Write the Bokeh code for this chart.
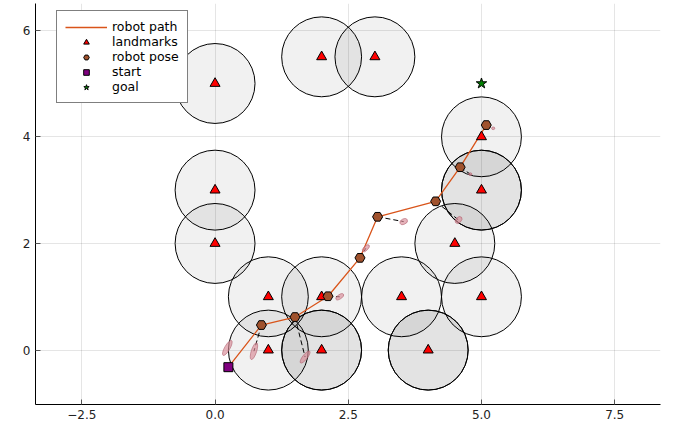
import numpy as np
from bokeh.plotting import figure
from bokeh.models import Range1d, Legend, LegendItem, CustomJSTickFormatter, FixedTicker
from bokeh.embed import file_html
from bokeh.resources import INLINE

# ---- data ----
landmark_x = [0, 2, 3, 0, 0, 5, 5, 4.5, 1, 2, 3.5, 5, 1, 2, 4]
landmark_y = [5, 5.5, 5.5, 3, 2, 4, 3, 2, 1, 1, 1, 1, 0, 0, 0]
# sensing circles (some landmarks observed twice)
range_x = [0, 2, 3, 0, 0, 5, 5, 4.5, 1, 2, 3.5, 5, 1, 2, 4, 5, 2, 4]
range_y = [5, 5.5, 5.5, 3, 2, 4, 3, 2, 1, 1, 1, 1, 0, 0, 0, 3, 0, 0]
sense_radius = 0.75

start_x = [0.25]
start_y = [-0.32]
pose_x = [0.87, 1.50, 2.12, 2.72, 3.05, 4.14, 4.60, 5.09]
pose_y = [0.47, 0.62, 1.01, 1.73, 2.50, 2.79, 3.43, 4.22]
goal_x = [5.0]
goal_y = [5.0]

est_x = [0.23, 0.73, 1.69, 2.34, 2.83, 3.54, 4.57, 4.79, 5.22]
est_y = [0.04, -0.02, -0.13, 1.00, 1.91, 2.41, 2.44, 3.30, 4.16]
est_major = [0.32, 0.33, 0.28, 0.17, 0.17, 0.15, 0.15, 0.06, 0.06]
est_minor = [0.10, 0.10, 0.09, 0.08, 0.08, 0.10, 0.10, 0.05, 0.05]
est_angle_deg = [60, 72, 52, 33, 45, 25, 45, 0, 0]

x_ticks = [-2.5, 0.0, 2.5, 5.0, 7.5]
y_ticks = [0, 2, 4, 6]

FONT = "DejaVu Sans"

p = figure(width=680, height=429, output_backend="svg", toolbar_location=None,
           x_range=Range1d(-3.37, 8.36), y_range=Range1d(-1.02, 6.5),
           min_border_left=35, min_border_right=20, min_border_top=3, min_border_bottom=25)
p.outline_line_color = None
p.background_fill_color = "white"
p.border_fill_color = "white"

# grid
p.xgrid.ticker = FixedTicker(ticks=x_ticks)
p.ygrid.ticker = FixedTicker(ticks=y_ticks)
for g in (p.xgrid, p.ygrid):
    g.grid_line_color = "black"
    g.grid_line_alpha = 0.1
    g.grid_line_width = 1

for ax, ticks in ((p.xaxis, x_ticks), (p.yaxis, y_ticks)):
    ax.ticker = FixedTicker(ticks=ticks)
    ax.axis_line_color = "black"
    ax.axis_line_width = 1
    ax.major_tick_in = 5
    ax.major_tick_out = 0
    ax.major_tick_line_color = "#555555"
    ax.minor_tick_line_color = None
    ax.major_label_text_font = FONT
    ax.major_label_text_font_size = "12px"
    ax.major_label_text_color = "#222222"
    ax.major_label_standoff = 5

p.xaxis.formatter = CustomJSTickFormatter(code="return tick.toFixed(1).replace('-', '\u2212');")
p.yaxis.formatter = CustomJSTickFormatter(code="return tick.toFixed(0).replace('-', '\u2212');")

# sensing range circles
p.circle(x=range_x, y=range_y, radius=sense_radius, fill_color="black", fill_alpha=0.055,
         line_color="black", line_width=1)

# dashed connections from poses to estimates (skip start)
p.segment(x0=pose_x, y0=pose_y, x1=est_x[1:], y1=est_y[1:], line_color="black", line_width=1,
          line_dash="5 3")

# path
path_x = start_x + pose_x
path_y = start_y + pose_y
r_path = p.line(path_x, path_y, line_color="#d9541a", line_width=1.3)

# estimate ellipses
p.ellipse(x=est_x, y=est_y, width=est_major, height=est_minor,
          angle=[np.deg2rad(a) for a in est_angle_deg],
          fill_color="#d98a96", fill_alpha=0.65, line_color="#b06070", line_alpha=0.6)

r_land = p.scatter(landmark_x, landmark_y, marker="triangle", size=10, fill_color="red",
                   line_color="black", line_width=1)
r_pose = p.scatter(pose_x, pose_y, marker="hex", size=10, fill_color="#a0522d",
                   line_color="black", line_width=1)
r_start = p.scatter(start_x, start_y, marker="square", size=9, fill_color="purple",
                    line_color="black", line_width=1)
r_goal = p.scatter(goal_x, goal_y, marker="star", size=11, fill_color="green",
                   line_color="black", line_width=1)

legend = Legend(items=[
    LegendItem(label="robot path", renderers=[r_path]),
    LegendItem(label="landmarks", renderers=[r_land]),
    LegendItem(label="robot pose", renderers=[r_pose]),
    LegendItem(label="start", renderers=[r_start]),
    LegendItem(label="goal", renderers=[r_goal]),
], location=(21, 301))
legend.label_text_font = FONT
legend.label_text_font_size = "12.5px"
legend.label_text_color = "black"
legend.label_height = 14
legend.glyph_height = 14
legend.glyph_width = 42
legend.label_standoff = 5
legend.spacing = 0
legend.padding = 8
legend.margin = 0
legend.border_line_color = "black"
legend.border_line_width = 1
legend.background_fill_color = "white"
legend.background_fill_alpha = 1.0
p.add_layout(legend)

open("out.html", "w").write(file_html(p, INLINE))
